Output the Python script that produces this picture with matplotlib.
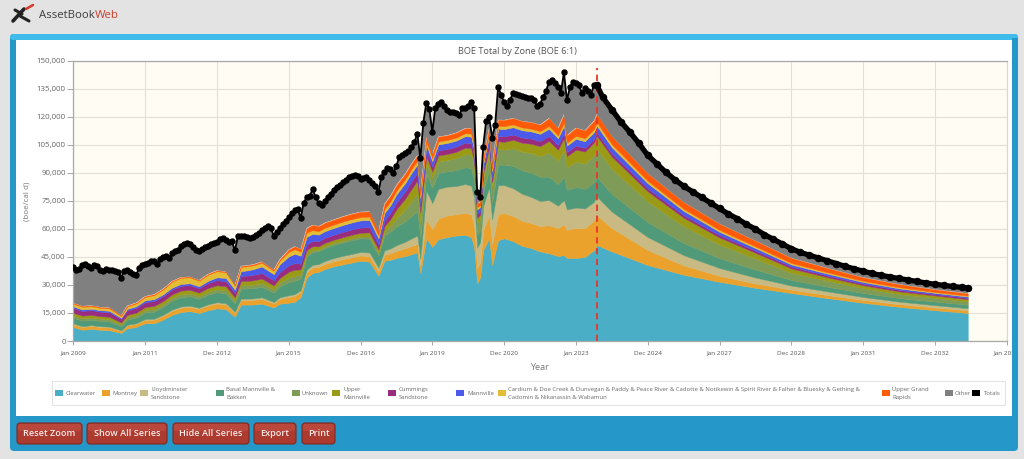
import numpy as np
import matplotlib
matplotlib.use("Agg")
import matplotlib.pyplot as plt
from matplotlib.patches import FancyBboxPatch
from matplotlib.lines import Line2D
from matplotlib.transforms import IdentityTransform
from matplotlib.ticker import FuncFormatter

plt.rcParams['font.family'] = ['Open Sans', 'DejaVu Sans']

# ------------------------------------------------------------------ data
# values in thousand boe / calendar day; month index 0 = Jan 2009
totals_hist = [
    39.5, 38, 38.5, 40.5, 41, 40, 39, 40.5, 40, 38, 37.5, 38.5,            # 2009
    38, 38, 37.5, 37, 34, 37.5, 38, 37, 36, 35.5, 39, 40.5,                # 2010
    41, 42, 43, 43, 41.5, 44, 45, 45.5, 44.5, 47, 48, 49,                  # 2011
    51, 52, 52.5, 52, 50.5, 49, 48, 49.5, 50.5, 51, 52, 52.5,              # 2012
    53, 54.5, 55, 54, 53, 53.5, 48.5, 56, 56.5, 56, 55.5, 55,              # 2013
    55.5, 57, 58, 59.5, 60.5, 61.5, 60.5, 56.5, 58.5, 60.5, 62.5, 64.5,    # 2014
    66.5, 68.5, 70, 70.5, 66, 74, 77, 77.5, 81.5, 77, 74, 73,              # 2015
    75, 77, 79, 81, 82.5, 83.5, 85, 86, 88, 88.5, 89, 88.5,                # 2016
    87, 87.5, 88, 86, 84.5, 83, 80, 88, 90.5, 92.7, 92, 90,                # 2017
    94, 98.6, 99.5, 100.5, 102, 104, 106.5, 111, 98, 117, 127.5, 124.5,    # 2018
    112, 125, 127, 128, 126, 124, 122.5, 122.7, 122, 121, 124.8, 125,      # 2019
    126, 128, 124.8, 80, 77, 104, 118, 120, 109, 115.7, 136, 132,          # 2020
    128, 126, 129, 133, 132.5, 132, 131, 130.5, 130, 130, 129, 126,        # 2021
    127, 130.5, 134, 138.7, 139.8, 138, 136, 133, 144, 129, 136, 138.7,    # 2022
    138, 137, 133, 135.5, 134, 131.8, 137, 137,                            # 2023 (to Aug)
]
forecast_months = list(range(177, 298, 3)) + [299]
totals_fc = [
    130.5, 124, 117.5, 112, 106, 99.5, 95, 90.5, 86.5, 83, 80, 77, 74, 71, 68,
    65.5, 62.5, 60, 57, 54.5, 52, 49.5, 47.5, 46, 44.5, 43, 41.5, 40, 38.7,
    37.4, 36.2, 35.2, 34.3, 33.5, 32.7, 31.9, 31.1, 30.4, 29.8, 29.2, 28.7, 28.4,
]
forecast_start_month = 175

zone_months = [
    0, 3, 6, 9, 12, 16, 18, 21, 24, 27,
    30, 33, 36, 39, 42, 45, 48, 51, 54, 56,
    58, 60, 63, 67, 69, 72, 74, 76, 78, 80,
    82, 84, 87, 90, 93, 96, 99, 102, 104, 106,
    108, 111, 113, 115, 116, 118, 120, 122, 125, 128,
    131, 133, 134, 135, 136, 137, 139, 140, 142, 144,
    147, 150, 153, 156, 159, 162, 164, 165, 168, 171,
    174, 175,
    180, 192, 204, 216, 228, 240, 252, 264, 276, 288, 299,
]
clearwater = [
    7.5, 6.0, 6.5, 6.0, 5.8, 4.3, 6.8, 7.5, 9.5, 9.5,
    11.5, 14.0, 15.5, 16.0, 15.0, 16.5, 17.5, 17.0, 13.0, 19.5,
    19.5, 19.5, 20.0, 18.0, 20.0, 20.5, 21.0, 23.5, 34.0, 36.5,
    37.0, 38.5, 40.0, 41.0, 42.0, 43.0, 42.5, 35.0, 43.0, 43.5,
    44.5, 45.5, 46.5, 47.5, 36.4, 55.0, 50.4, 54.5, 55.7, 56.5,
    56.8, 55.7, 50.0, 31.0, 34.0, 48.7, 55.0, 40.7, 54.0, 55.0,
    53.5, 51.0, 49.8, 48.0, 47.0, 45.5, 46.0, 44.5, 44.5, 45.0,
    48.7, 51.4,
    48, 40.7, 35.5, 31.7, 28.5, 25.7, 23, 20.5, 18.3, 16.5, 15,
]
montney = [
    1.5, 1.5, 1.6, 1.5, 1.5, 1.1, 1.5, 1.6, 1.8, 1.9,
    2.0, 2.2, 2.4, 2.3, 2.2, 2.5, 2.6, 2.5, 2.0, 2.5,
    2.5, 2.5, 2.6, 2.2, 2.6, 3.0, 3.1, 2.8, 3.0, 2.9,
    2.7, 2.7, 2.7, 2.8, 2.8, 2.8, 2.9, 2.5, 3.2, 3.5,
    3.8, 4.2, 4.4, 4.5, 3.8, 10.5, 9.5, 11.0, 11.5, 11.5,
    11.8, 12.0, 11.5, 8.0, 8.0, 10.5, 12.5, 11.0, 14.0, 13.5,
    13.5, 13.4, 13.4, 13.5, 15.0, 15.0, 16.5, 15.0, 16.0, 15.5,
    15.8, 16.0,
    12.5, 8, 5, 3.2, 2.3, 1.8, 1.6, 1.5, 1.4, 1.4, 1.4,
]
lloydminster = [
    0.4, 0.4, 0.4, 0.4, 0.4, 0.3, 0.4, 0.4, 0.5, 0.5,
    0.5, 0.6, 0.6, 0.6, 0.6, 0.6, 0.7, 0.7, 0.6, 0.7,
    0.7, 0.8, 0.8, 0.7, 0.8, 1.0, 1.0, 0.9, 1.2, 1.4,
    1.5, 1.6, 1.7, 1.8, 1.8, 1.9, 2.0, 1.8, 2.3, 2.6,
    3.0, 3.5, 4.0, 4.5, 3.8, 15.0, 14.0, 16.0, 15.5, 15.0,
    15.5, 15.5, 15.0, 11.0, 11.0, 13.0, 15.0, 13.5, 15.5, 15.0,
    14.8, 14.5, 14.0, 13.5, 13.5, 12.0, 13.0, 11.0, 11.0, 10.5,
    10.0, 10.0,
    8.8, 7, 5.5, 4.2, 3.2, 2.2, 2.0, 1.6, 1.4, 1.3, 1.2,
]
basal_mannville = [
    3.0, 3.0, 2.9, 2.9, 2.8, 2.2, 2.8, 3.0, 3.5, 3.8,
    4.2, 4.8, 5.0, 5.0, 4.8, 5.2, 5.3, 5.3, 4.5, 5.4,
    5.4, 5.5, 5.6, 5.0, 5.8, 7.0, 7.2, 6.3, 7.0, 7.0,
    6.8, 7.0, 7.1, 7.2, 7.3, 7.3, 7.4, 6.6, 8.0, 9.0,
    10.0, 11.0, 12.0, 13.0, 11.0, 9.0, 8.2, 8.5, 8.2, 8.5,
    9.0, 9.2, 9.0, 7.0, 6.5, 8.0, 9.5, 9.0, 11.0, 11.0,
    12.0, 12.5, 13.0, 13.0, 12.5, 11.5, 12.5, 10.5, 11.0, 10.5,
    10.5, 10.5,
    9.5, 8, 6.5, 5.3, 4.3, 3.0, 2.5, 2.1, 1.9, 1.9, 1.8,
]
unknown = [
    1.2, 1.2, 1.2, 1.1, 1.1, 0.9, 1.1, 1.2, 1.3, 1.4,
    1.4, 1.5, 1.5, 1.5, 1.4, 1.5, 1.6, 1.6, 1.4, 1.7,
    1.8, 1.8, 1.9, 1.7, 2.0, 2.4, 2.5, 2.0, 1.2, 1.0,
    0.9, 0.9, 0.9, 0.9, 1.0, 1.0, 1.2, 1.2, 2.0, 3.0,
    4.5, 6.5, 8.0, 9.5, 8.0, 6.0, 5.5, 6.0, 6.0, 6.5,
    7.0, 7.3, 7.2, 6.0, 5.5, 6.5, 8.0, 7.5, 8.5, 8.0,
    9.5, 10.0, 10.5, 11.0, 13.0, 12.5, 14.0, 12.0, 13.5, 13.5,
    14.5, 15.0,
    13.5, 11, 9, 7.2, 5.8, 3.8, 3.2, 2.6, 2.1, 2.0, 1.8,
]
upper_mannville = [
    1.5, 1.5, 1.4, 1.4, 1.4, 1.1, 1.4, 1.5, 1.6, 1.7,
    1.8, 1.9, 2.0, 2.0, 1.9, 2.1, 2.2, 2.2, 1.9, 2.3,
    2.3, 2.4, 2.5, 2.2, 2.6, 3.2, 3.4, 2.9, 2.4, 2.0,
    1.8, 1.8, 1.8, 1.9, 2.0, 2.0, 2.2, 2.0, 3.0, 3.8,
    4.8, 5.8, 6.5, 7.0, 6.0, 3.5, 3.2, 3.4, 3.3, 3.4,
    3.5, 3.6, 3.5, 3.0, 2.7, 3.0, 3.8, 3.5, 4.0, 4.2,
    4.5, 4.8, 5.0, 5.4, 6.2, 6.0, 6.8, 6.0, 6.5, 6.5,
    6.8, 7.0,
    6.5, 5.5, 4.6, 3.9, 3.2, 2.4, 1.9, 1.6, 1.5, 1.3, 1.2,
]
cummings = [
    2.6, 2.5, 2.5, 2.4, 2.4, 1.9, 2.4, 2.5, 2.6, 2.6,
    2.6, 2.6, 2.6, 2.5, 2.4, 2.6, 2.7, 2.7, 2.3, 2.8,
    2.8, 2.9, 3.0, 2.7, 3.1, 3.4, 3.5, 3.0, 3.0, 2.8,
    2.7, 2.7, 2.7, 2.8, 2.8, 2.8, 2.8, 2.5, 3.0, 3.2,
    3.5, 3.8, 4.0, 4.0, 3.4, 2.8, 2.5, 2.7, 2.7, 2.7,
    2.7, 2.7, 2.6, 2.0, 1.8, 2.2, 2.7, 2.5, 2.9, 2.9,
    2.8, 2.8, 2.7, 2.7, 2.6, 2.4, 2.5, 2.2, 2.2, 2.0,
    1.9, 1.8,
    1.7, 1.5, 1.3, 1.2, 1.1, 1.0, 0.9, 0.8, 0.8, 0.7, 0.7,
]
mannville = [
    0.8, 0.8, 0.8, 0.8, 0.8, 0.6, 0.8, 0.9, 1.0, 1.0,
    1.0, 1.0, 1.0, 1.0, 1.0, 1.2, 1.5, 1.8, 1.8, 2.5,
    2.8, 3.0, 3.5, 3.3, 4.2, 4.8, 5.0, 4.3, 4.0, 3.8,
    3.6, 3.6, 3.6, 3.7, 3.8, 3.8, 3.8, 3.4, 4.0, 4.2,
    4.4, 4.5, 4.6, 4.6, 4.0, 3.3, 3.0, 3.2, 3.2, 3.3,
    3.4, 3.5, 3.4, 2.5, 2.2, 2.8, 3.5, 3.2, 3.8, 3.9,
    3.9, 3.9, 3.9, 3.9, 3.9, 3.7, 4.0, 3.5, 3.6, 3.5,
    3.6, 3.6,
    3.3, 2.8, 2.3, 1.8, 1.4, 1.1, 1.0, 0.9, 0.8, 0.7, 0.7,
]
cardium_group = [
    1.5, 1.4, 1.4, 1.3, 1.3, 1.0, 1.3, 1.5, 1.8, 2.2,
    2.6, 3.2, 3.3, 3.2, 3.0, 3.3, 3.3, 3.0, 2.2, 2.3,
    2.2, 2.1, 2.0, 1.8, 2.0, 2.4, 2.5, 2.1, 2.2, 2.0,
    1.8, 1.8, 1.8, 1.8, 1.8, 1.8, 1.8, 1.6, 2.0, 2.0,
    2.0, 2.0, 2.0, 2.0, 1.7, 1.7, 1.5, 1.6, 1.6, 1.6,
    1.6, 1.6, 1.6, 1.2, 1.0, 1.3, 1.5, 1.4, 1.6, 1.6,
    1.5, 1.5, 1.4, 1.4, 1.5, 1.5, 1.7, 1.5, 1.6, 1.6,
    1.7, 1.8,
    1.6, 1.3, 1.1, 1.0, 0.9, 0.8, 0.7, 0.6, 0.6, 0.5, 0.5,
]
upper_grand_rapids = [
    0.4, 0.4, 0.4, 0.4, 0.4, 0.3, 0.4, 0.4, 0.4, 0.4,
    0.4, 0.3, 0.3, 0.3, 0.3, 0.4, 0.4, 0.4, 0.4, 0.5,
    0.5, 0.5, 0.6, 0.6, 0.7, 1.3, 1.5, 1.4, 2.5, 2.8,
    2.7, 2.7, 2.7, 2.8, 2.8, 2.8, 2.8, 2.4, 3.0, 3.0,
    3.0, 3.0, 3.0, 3.0, 2.6, 2.7, 2.4, 2.6, 2.5, 2.6,
    2.7, 2.8, 2.7, 2.0, 1.8, 2.2, 2.8, 2.6, 3.2, 3.3,
    3.4, 3.4, 3.5, 3.5, 4.2, 4.0, 4.5, 4.0, 4.3, 4.2,
    4.4, 4.5,
    4.3, 4.0, 3.6, 3.3, 3.0, 2.7, 2.3, 1.9, 1.6, 1.3, 1.2,
]

zone_names = ["Clearwater", "Montney", "Lloydminster\nSandstone", "Basal Mannville &\nBakken",
              "Unknown", "Upper\nMannville", "Cummings\nSandstone", "Mannville",
              "Cardium & Doe Creek & Dunvegan & Paddy & Peace River & Cadotte & Notikewin & Spirit River & Falher & Bluesky & Gething &\nCadomin & Nikanassin & Wabamun",
              "Upper Grand\nRapids"]
zone_colors = ["#4AAFC6", "#EBA22C", "#C9B982", "#509A7A", "#7F9B58", "#9A9A17",
               "#992C7D", "#4B5AE8", "#E3BD35", "#FF5A08"]
other_name, other_color = "Other", "#808080"
totals_name, totals_color = "Totals", "#000000"

x_tick_labels = ["Jan 2009", "Jan 2011", "Dec 2012", "Jan 2015", "Dec 2016", "Jan 2019",
                 "Dec 2020", "Jan 2023", "Dec 2024", "Jan 2027", "Dec 2028", "Jan 2031",
                 "Dec 2032", "Jan 2035"]
y_ticks = [0, 15, 30, 45, 60, 75, 90, 105, 120, 135, 150]

# ------------------------------------------------------------------ figure
W, H = 1024, 459
fig = plt.figure(figsize=(W / 100, H / 100), dpi=100)
fig.patch.set_facecolor('#E3E3E3')
PX = IdentityTransform()


def box(x0, y0, x1, y1, fc, ec='none', lw=0.0, r=0.0, z=-5):
    style = f"round,pad=0,rounding_size={r}" if r else "square,pad=0"
    p = FancyBboxPatch((x0, H - y1), x1 - x0, y1 - y0, boxstyle=style, transform=PX,
                       facecolor=fc, edgecolor=ec, linewidth=lw, zorder=z)
    fig.add_artist(p)
    return p


def txt(x, y, s, **kw):
    return fig.text(x, H - y, s, transform=PX, **kw)


def seg(x0, y0, x1, y1, **kw):
    fig.add_artist(Line2D([x0, x1], [H - y0, H - y1], transform=PX, **kw))


# header logo
seg(13, 21, 24, 9, color='#222222', lw=2.6, solid_capstyle='round')
seg(15, 10, 22, 14, color='#222222', lw=2.2, solid_capstyle='round')
seg(20, 16, 29, 21, color='#222222', lw=2.2, solid_capstyle='round')
seg(26, 9, 33, 5, color='#D0392B', lw=1.8, solid_capstyle='round')
t1 = txt(39, 15.5, "AssetBook", fontsize=8.2, color='#3C3C3C', va='center', ha='left')
fig.canvas.draw()
bb = t1.get_window_extent(fig.canvas.get_renderer())
fig.text(bb.x1, H - 15.5, "Web", transform=PX, fontsize=8.2, color='#C8402F', va='center', ha='left')

# blue panel and white chart area
box(10, 34, 1018, 451, '#2597C8', r=4, z=-9)
box(10, 34, 1018, 40, '#3FBCEA', r=3, z=-8)
box(16, 40, 1012, 416, '#FFFFFF', z=-7)
box(1012, 38, 1018, 440, '#2597C8', z=10)

# buttons
buttons = [("Reset Zoom", 17, 82), ("Show All Series", 87, 167), ("Hide All Series", 173, 249),
           ("Export", 254, 296), ("Print", 302, 335)]
for lab, x0, x1 in buttons:
    box(x0, 423, x1, 444, '#AC3A2F', ec='#7E2A22', lw=0.8, r=3, z=-4)
    box(x0 + 1, 424, x1 - 1, 431, '#B9473B', r=2, z=-3.5)
    txt((x0 + x1) / 2, 434, lab, fontsize=6.6, color='#FBECEA', ha='center', va='center',
        fontweight='semibold')

# chart title and axis labels
txt(517, 52, "BOE Total by Zone (BOE 6:1)", fontsize=6.6, color='#555555', ha='center', va='center')
txt(27.5, 201, "(boe/cal d)", fontsize=5.8, color='#777777', ha='center', va='center', rotation=90)
txt(539, 368, "Year", fontsize=6.6, color='#777777', ha='center', va='center')

# legend
box(52, 381, 1005, 405, '#FFFFFF', ec='#E4E4E4', lw=0.8, z=-6)
legend_pos = [(55, 66), (102, 112), (140, 151), (215.5, 226), (291.5, 302), (332, 343),
              (388, 399), (456, 467), (497.5, 508.5), (881.5, 892.5), (945, 955), (972, 984)]
legend_names = zone_names + [other_name, totals_name]
legend_colors = zone_colors + [other_color, totals_color]
for (sx, tx), name, col in zip(legend_pos, legend_names, legend_colors):
    box(sx, 390, sx + 8, 396, col, z=-3)
    txt(tx, 393.2, name, fontsize=4.35, color='#6A6A6A', ha='left', va='center', linespacing=1.8)

# ------------------------------------------------------------------ axes
ax = fig.add_axes([73.3 / W, 1 - 341 / H, (1006.7 - 73.3) / W, 280 / H])
ax.set_facecolor('#FFFCF4')


def to_year(months):
    return 2009 + np.asarray(months, dtype=float) / 12.0


zx = to_year(zone_months)
zones = [clearwater, montney, lloydminster, basal_mannville, unknown, upper_mannville,
         cummings, mannville, cardium_group, upper_grand_rapids]
polys = ax.stackplot(zx, *zones, colors=zone_colors, linewidth=0, zorder=2)
for pc in polys:
    pc.set_edgecolor(pc.get_facecolor())
    pc.set_linewidth(0.3)

hist_x = to_year(np.arange(len(totals_hist)))
fc_x = to_year(forecast_months)
tot_x = np.concatenate([hist_x, fc_x])
tot_y = np.concatenate([totals_hist, totals_fc])
zone_top = np.sum(np.array(zones), axis=0)
ax.fill(np.concatenate([tot_x, zx[::-1]]), np.concatenate([tot_y, zone_top[::-1]]),
        color=other_color, linewidth=0, zorder=2)

ax.axvline(to_year(forecast_start_month), ymin=0, ymax=0.975, color='#E8352C', lw=1.3,
           ls=(0, (3.5, 2.5)), zorder=5)

ax.plot(hist_x, totals_hist, '-o', color=totals_color, lw=1.3, ms=3.6, zorder=6)
ax.plot(np.concatenate([[hist_x[-1]], fc_x]), np.concatenate([[totals_hist[-1]], totals_fc]),
        '-o', color=totals_color, lw=3.8, ms=4.4, zorder=6)

ax.set_xlim(2009, 2035)
ax.set_ylim(0, 150)
ax.set_xticks(2009 + 2 * np.arange(len(x_tick_labels)))
ax.set_xticklabels(x_tick_labels)
ax.set_yticks(y_ticks)
ax.yaxis.set_major_formatter(FuncFormatter(lambda v, _: f"{int(round(v * 1000)):,}"))
ax.grid(True, color='#E4E0D8', lw=0.8, zorder=0)
ax.set_axisbelow(True)
ax.tick_params(axis='y', labelsize=5.7, labelcolor='#666666', color='#999999', length=4, width=0.6, pad=1.5)
ax.tick_params(axis='x', labelsize=4.6, labelcolor='#555555', color='#999999', length=3, width=0.6, pad=4)
for side, sp in ax.spines.items():
    sp.set_color('#A8A8A8' if side in ('left', 'bottom', 'top') else '#D8D8D8')
    sp.set_linewidth(0.9)

fig.savefig('out.png', dpi=100, facecolor=fig.get_facecolor())
